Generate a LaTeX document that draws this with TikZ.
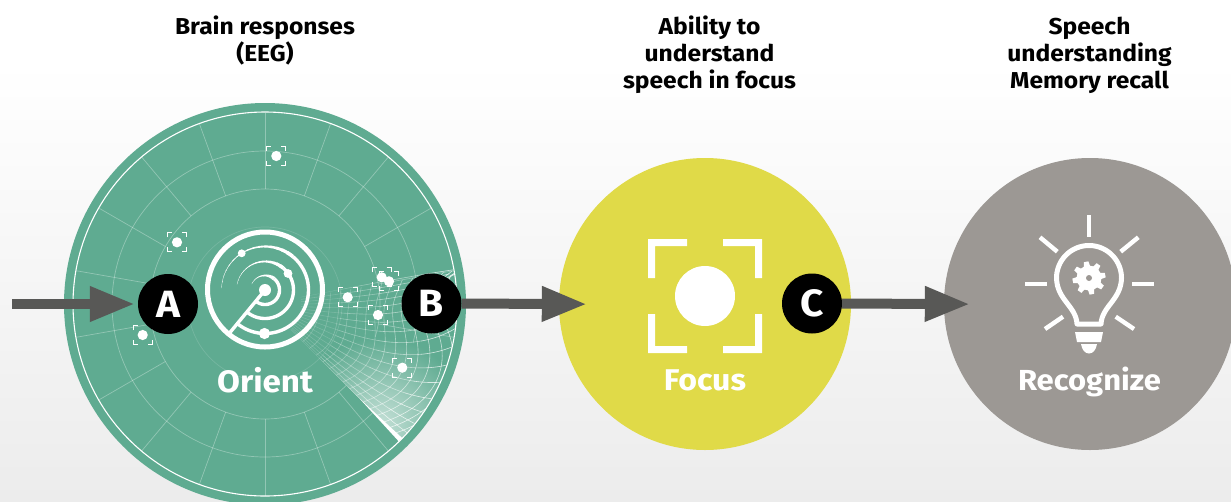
\documentclass[tikz,border=0pt]{standalone}
\usepackage{fontspec}
\setmainfont{Fira Sans}[FakeStretch=1.07]
\usetikzlibrary{arrows.meta}
\definecolor{teal1}{HTML}{5FAB91}
\definecolor{yel1}{HTML}{E0DA48}
\definecolor{gray1}{HTML}{9C9894}
\definecolor{arr1}{HTML}{585856}
\definecolor{bgend}{HTML}{ECECEC}
\tikzset{
  bubble/.style={circle,draw=none,inner sep=0pt,minimum size=292pt},
  badge/.style={circle,fill=black,text=white,inner sep=0pt,minimum size=60pt,font=\fontsize{38}{38}\selectfont\bfseries},
  head/.style={align=center,text=black,inner sep=0pt,font=\fontsize{23}{27}\selectfont\bfseries},
  lab/.style={text=white,inner sep=0pt,font=\fontsize{30}{30}\selectfont\bfseries},
  flow/.style={draw=arr1,line width=10pt,-{Triangle[length=45pt,width=33pt,fill=arr1]}},
  faint/.style={draw=white,draw opacity=.32,line width=.7pt},
  meshl/.style={draw=white,line width=.6pt},
}
\newcommand{\tgt}[2]{%
  \fill[white] (#1,#2) circle[radius=5.1pt];
  \draw[white,line width=1.25pt]
    (#1-9.5,#2-5)--(#1-9.5,#2-9.5)--(#1-5,#2-9.5)
    (#1+5,#2-9.5)--(#1+9.5,#2-9.5)--(#1+9.5,#2-5)
    (#1+9.5,#2+5)--(#1+9.5,#2+9.5)--(#1+5,#2+9.5)
    (#1-5,#2+9.5)--(#1-9.5,#2+9.5)--(#1-9.5,#2+5);
}
\newcommand{\radarc}[3]{%
  \draw[white,line width=#3pt] plot[domain=-130:50,samples=50] ({265+#1*cos(\x)},{290-#1*sin(\x)});
  \foreach \k in {0,...,15}{
    \pgfmathsetmacro{\aa}{50+(#2-50)*\k/16}
    \pgfmathsetmacro{\ab}{50+(#2-50)*(\k+1.2)/16}
    \pgfmathsetmacro{\wd}{#3*(1-\k/16)*(1-\k/16)+.25}
    \draw[white,line width=\wd pt] plot[domain=\aa:\ab,samples=6] ({265+#1*cos(\x)},{290-#1*sin(\x)});
  }
}
\newcommand{\radseg}[3]{%
  \draw[meshl,draw opacity=#3] plot[domain=#1:#2,samples=14,smooth]
      ({265+(28+163*\x+13*\x*\x*sin(360*\v))*cos(-45+55*\v+13*\x*\x*\x*sin(180*\v)-6*\x*(1-\x)*sin(360*\v))},
       {304-(28+163*\x+13*\x*\x*sin(360*\v))*sin(-45+55*\v+13*\x*\x*\x*sin(180*\v)-6*\x*(1-\x)*sin(360*\v))});
}
\begin{document}
\begin{tikzpicture}[x=1pt,y=-1pt]
\useasboundingbox (0,0) rectangle (1231,501);
\fill[white] (0,0) rectangle (1231,62);
\shade[top color=white,bottom color=bgend] (0,62) rectangle (1231,501);
\clip (0,0) rectangle (1231,501);
\node[bubble,fill=teal1,minimum size=402pt] (orient) at (265,304) {};
\draw[faint,draw opacity=.14] (265,304) circle[radius=77pt];
\foreach \r in {115,153}{\draw[faint] (265,304) circle[radius=\r pt];}
\foreach \a in {10,30,...,350}{
  \draw[faint] ({265+115*cos(\a)},{304-115*sin(\a)}) -- ({265+191.5*cos(\a)},{304-191.5*sin(\a)});
}
\begin{scope}
  \clip (265,304) -- plot[domain=-45:11,samples=40] ({265+191.5*cos(\x)},{304-191.5*sin(\x)}) -- cycle;
  \shade[inner color=white!62!teal1,outer color=teal1] (381,422) circle[radius=85pt];
  \foreach \v in {0,.03,.07,.12,.18,.25,.32,.39,.46,.53,.60,.67,.74,.81,.88,.95,1.02}{
    \radseg{.05}{.3}{.16}
    \radseg{.3}{.55}{.34}
    \radseg{.55}{.8}{.5}
    \radseg{.8}{1}{.72}
  }
  \foreach \u in {.16,.22,.28,.34,.40,.46,.52,.58,.64,.70,.76,.82,.88,.93,.98,1.03,1.08}{
    \pgfmathsetmacro{\op}{min(.75,.1+.62*\u*\u+.1)}
    \draw[meshl,draw opacity=\op] plot[domain=0:1,samples=40,smooth]
      ({265+(28+163*\u+22*\u*\u*sin(360*\x)+16*\u*(\x-.3))*cos(-45+55*\x+13*\u*\u*\u*sin(180*\x))},
       {304-(28+163*\u+22*\u*\u*sin(360*\x)+16*\u*(\x-.3))*sin(-45+55*\x+13*\u*\u*\u*sin(180*\x))});
  }
\end{scope}
\fill[white] (360,399) -- (402.6,438.4) -- (398.4,441) -- cycle;
\draw[white,line width=1.1pt] (265,304) circle[radius=192pt];
\node[bubble,fill=yel1] (focus) at (705,304) {};
\node[bubble,fill=gray1] (recog) at (1090,304) {};
\tgt{276.3}{156}
\tgt{177}{242.3}
\tgt{142.7}{335}
\tgt{347.7}{297.3}
\tgt{378}{315}
\tgt{402.3}{367.7}
\tgt{381.7}{277.3}
\tgt{389}{281.3}
\draw[white,line width=5pt] (265,289.5) circle[radius=57.5pt];
\radarc{14.5}{155}{3.4}
\radarc{28.5}{167}{3.4}
\radarc{43.5}{176}{3.4}
\fill[white] (265,290) circle[radius=6pt];
\fill[white] (241.7,253.3) circle[radius=3.9pt];
\fill[white] (288,273.5) circle[radius=4.4pt];
\fill[white] (264.5,333.5) circle[radius=5.6pt];
\draw[white,line width=3.4pt] (265,290) -- (230,332.5);
\fill[white] (705,296) circle[radius=30pt];
\fill[white] (648,239) -- (687,239) -- (687,246) -- (655,246) -- (655,278) -- (648,278) -- cycle;
\fill[white] (762,239) -- (723,239) -- (723,246) -- (755,246) -- (755,278) -- (762,278) -- cycle;
\fill[white] (648,353) -- (687,353) -- (687,346) -- (655,346) -- (655,314) -- (648,314) -- cycle;
\fill[white] (762,353) -- (723,353) -- (723,346) -- (755,346) -- (755,314) -- (762,314) -- cycle;
\draw[white,line width=5pt,line join=round] (1077,324) .. controls (1076,306) and (1057,300) .. (1056.5,278)
  -- plot[domain=180:0,samples=40] ({1089+32.5*cos(\x)},{278-32.5*sin(\x)})
  .. controls (1121,300) and (1102,306) .. (1101,324) -- cycle;
\fill[white] (1075,332) -- (1103,332) -- (1101,342) -- (1077,342) -- cycle;
\fill[white] (1081,344) -- (1097,344) .. controls (1096,350) and (1093,353.5) .. (1089,353.5) .. controls (1085,353.5) and (1082,350) .. (1081,344) -- cycle;
\foreach \xa/\ya/\xb/\yb in {1089/215/1089/237,1025/284/1047/284,1132/284/1154/284,1040/237.3/1057.3/251.7,1138.3/237.3/1120.7/251.7,1045/329/1063/316.7,1134/329/1115.7/316.7}{
  \draw[white,line width=4.4pt] (\xa,\ya) -- (\xb,\yb);
}
\fill[white] (1089,278) circle[radius=12.5pt];
\foreach \a in {0,45,...,315}{
  \fill[white] ({1089+11*cos(\a+10)-3.2*sin(\a+10)},{278-11*sin(\a+10)-3.2*cos(\a+10)})
    -- ({1089+16.5*cos(\a+10)-2.3*sin(\a+10)},{278-16.5*sin(\a+10)-2.3*cos(\a+10)})
    -- ({1089+16.5*cos(\a+10)+2.3*sin(\a+10)},{278-16.5*sin(\a+10)+2.3*cos(\a+10)})
    -- ({1089+11*cos(\a+10)+3.2*sin(\a+10)},{278-11*sin(\a+10)+3.2*cos(\a+10)}) -- cycle;
}
\fill[gray1] (1089,278) circle[radius=3pt];
\node[badge] (A) at (168,304) {A};
\node[badge] (B) at (431.5,303.5) {B};
\node[badge] (C) at (812,303.5) {C};
\coordinate (start) at (12,304);
\draw[flow,shorten >=3pt] (start) -- (A.west);
\draw[flow,shorten >=-28pt] (B.east) -- (focus.west);
\draw[flow,shorten >=-26pt] (C.east) -- (recog.west);
\node[lab,font=\fontsize{31}{31}\selectfont\bfseries] (orientl) at (265,380.5) {Orient};
\node[lab] (focusl) at (705,380) {Focus};
\node[lab,font=\fontsize{29}{30}\selectfont\bfseries] (recogl) at (1089.5,381.5) {Recognize};
\node[head,anchor=north] (h1) at (265,16) {Brain responses\\(EEG)};
\node[head,anchor=north] (h2) at (709.5,16) {Ability to\\understand\\speech in focus};
\node[head,anchor=north] (h3) at (1089.5,16.5) {Speech\\understanding\\Memory recall};
\end{tikzpicture}
\end{document}
